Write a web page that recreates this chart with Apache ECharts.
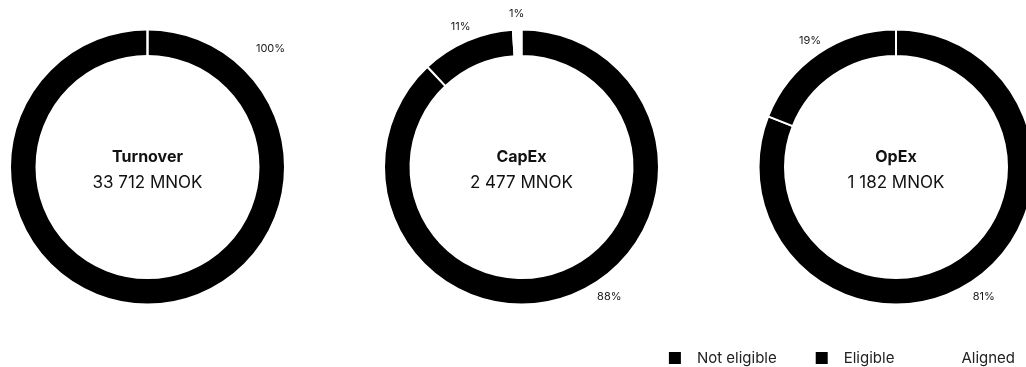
<!DOCTYPE html>
<html>
<head>
<meta charset="utf-8">
<script src="https://cdn.jsdelivr.net/npm/echarts@6/dist/echarts.min.js"></script>
<style>
  html, body { margin: 0; padding: 0; background: #fff; }
  #chart { width: 1026px; height: 367px; }
</style>
</head>
<body>
<div id="chart"></div>
<script>
// EU taxonomy split per KPI (share of total, %)
const kpiNames   = ['Turnover', 'CapEx', 'OpEx'];
const kpiTotals  = [33712, 2477, 1182];           // MNOK
const categories = ['Not eligible', 'Eligible', 'Aligned'];
const turnoverShares = [100, 0, 0];
const capexShares    = [88, 11, 1];
const opexShares     = [81, 19, 0];
const sharesByKpi = [turnoverShares, capexShares, opexShares];

const sliceColors = ['#000000', '#000000', '#ffffff'];
const FONT = 'Inter, "Noto Sans", sans-serif';

// ring geometry
const centers = [[147.5, 167], [521.5, 167], [896, 167]];
const innerR = 111, outerR = 137.5;

// label placement: small slices sit on their mid-angle, the dominant slice
// label is parked at a fixed angle of each ring
const minorLabelRadius = 153;
const majorLabel = [{ angle: 46, radius: 171 }, { angle: 146, radius: 157 }, { angle: 146, radius: 157 }];

function formatMNOK(v) {
  return String(v).replace(/\B(?=(\d{3})+(?!\d))/g, ' ') + ' MNOK';
}

function labelPos(seriesIdx, dataIdx) {
  const vals = sharesByKpi[seriesIdx];
  const sum = vals.reduce((a, b) => a + b, 0);
  let cum = 0;
  for (let i = 0; i < dataIdx; i++) cum += vals[i];
  const v = vals[dataIdx];
  let angle, r;
  const maxIdx = vals.indexOf(Math.max.apply(null, vals));
  if (dataIdx === maxIdx) {
    angle = majorLabel[seriesIdx].angle;
    r = majorLabel[seriesIdx].radius;
  } else {
    angle = (cum + v / 2) / sum * 360;
    r = minorLabelRadius;
  }
  const rad = angle * Math.PI / 180;
  const c = centers[seriesIdx];
  return { x: c[0] + r * Math.sin(rad), y: c[1] - r * Math.cos(rad) };
}

const series = kpiNames.map((name, si) => ({
  type: 'pie',
  name: name,
  center: centers[si],
  radius: [innerR, outerR],
  startAngle: 90,
  clockwise: true,
  percentPrecision: 0,
  silent: true,
  avoidLabelOverlap: false,
  itemStyle: { borderColor: '#ffffff', borderWidth: 2 },
  label: {
    show: true,
    position: 'outside',
    formatter: '{d}%',
    fontFamily: FONT,
    fontSize: 11,
    color: '#1a1a1a'
  },
  labelLine: { show: false },
  labelLayout: function (params) {
    const p = labelPos(si, params.dataIndex);
    return { x: p.x, y: p.y, align: 'center', verticalAlign: 'middle' };
  },
  data: categories.map((cat, ci) => ({
    name: cat,
    value: sharesByKpi[si][ci],
    itemStyle: { color: sliceColors[ci] },
    label: { show: sharesByKpi[si][ci] > 0 }
  }))
}));

const titles = kpiNames.map((name, si) => ({
  text: name,
  subtext: formatMNOK(kpiTotals[si]),
  left: centers[si][0],
  top: 149,
  padding: 0,
  textAlign: 'center',
  itemGap: 9,
  textStyle: { fontFamily: FONT, fontSize: 16, fontWeight: 'bold', color: '#111' },
  subtextStyle: { fontFamily: FONT, fontSize: 17, color: '#111' }
}));

const chart = echarts.init(document.getElementById('chart'), null, { renderer: 'canvas' });
chart.setOption({
  animation: false,
  backgroundColor: '#ffffff',
  title: titles,
  legend: {
    data: categories.map((c, i) => ({ name: c, itemStyle: { color: sliceColors[i] } })),
    right: 11,
    top: 350,
    padding: 0,
    icon: 'rect',
    itemWidth: 14,
    itemHeight: 14,
    itemGap: 37,
    selectedMode: false,
    textStyle: { fontFamily: FONT, fontSize: 15, color: '#222', padding: [0, 0, 0, 10] }
  },
  series: series
});
</script>
</body>
</html>
